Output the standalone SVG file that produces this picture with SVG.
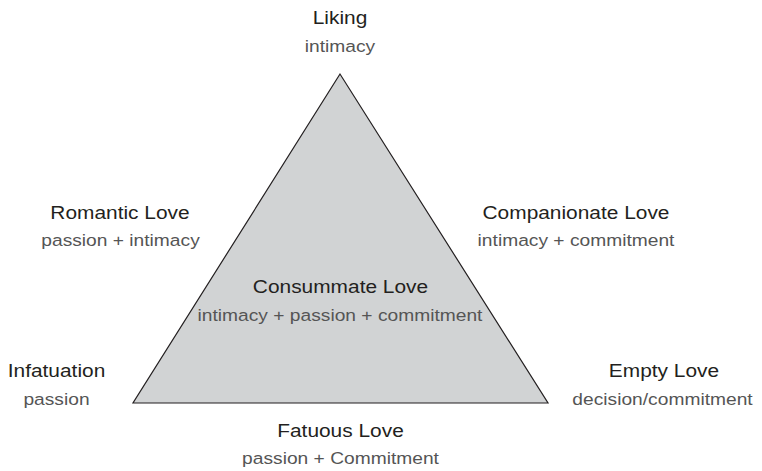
<svg xmlns="http://www.w3.org/2000/svg" width="762" height="471" viewBox="0 0 762 471">
<style>
text{font-family:"Liberation Sans",Arial,sans-serif;text-anchor:middle}
.t{font-size:18.5px;fill:#231f20}
.s{font-size:17px;fill:#555555}
.tri{fill:#d1d3d4;stroke:#231f20;stroke-width:1.2;stroke-linejoin:miter}
</style>
<rect width="762" height="471" fill="#ffffff"/>
<g id="connectors">
<polygon class="tri" points="340,74 133,403 548,403"/>
</g>
<g id="liking">
<text class="t" transform="translate(340,24) scale(1.13,1)">Liking</text>
<text class="s" transform="translate(340,52) scale(1.13,1)">intimacy</text>
</g>
<g id="romantic">
<text class="t" transform="translate(120,218.5) scale(1.13,1)">Romantic Love</text>
<text class="s" transform="translate(120.5,246) scale(1.13,1)">passion + intimacy</text>
</g>
<g id="companionate">
<text class="t" transform="translate(576,218.5) scale(1.13,1)">Companionate Love</text>
<text class="s" transform="translate(576,246) scale(1.13,1)">intimacy + commitment</text>
</g>
<g id="consummate">
<text class="t" transform="translate(340.5,293) scale(1.13,1)">Consummate Love</text>
<text class="s" transform="translate(340,321) scale(1.13,1)">intimacy + passion + commitment</text>
</g>
<g id="infatuation">
<text class="t" transform="translate(56.5,376.5) scale(1.13,1)">Infatuation</text>
<text class="s" transform="translate(56.5,404.5) scale(1.13,1)">passion</text>
</g>
<g id="empty">
<text class="t" transform="translate(664,376.5) scale(1.13,1)">Empty Love</text>
<text class="s" transform="translate(662.5,404.5) scale(1.13,1)">decision/commitment</text>
</g>
<g id="fatuous">
<text class="t" transform="translate(340.5,436.5) scale(1.13,1)">Fatuous Love</text>
<text class="s" transform="translate(340.5,464) scale(1.13,1)">passion + Commitment</text>
</g>
</svg>
